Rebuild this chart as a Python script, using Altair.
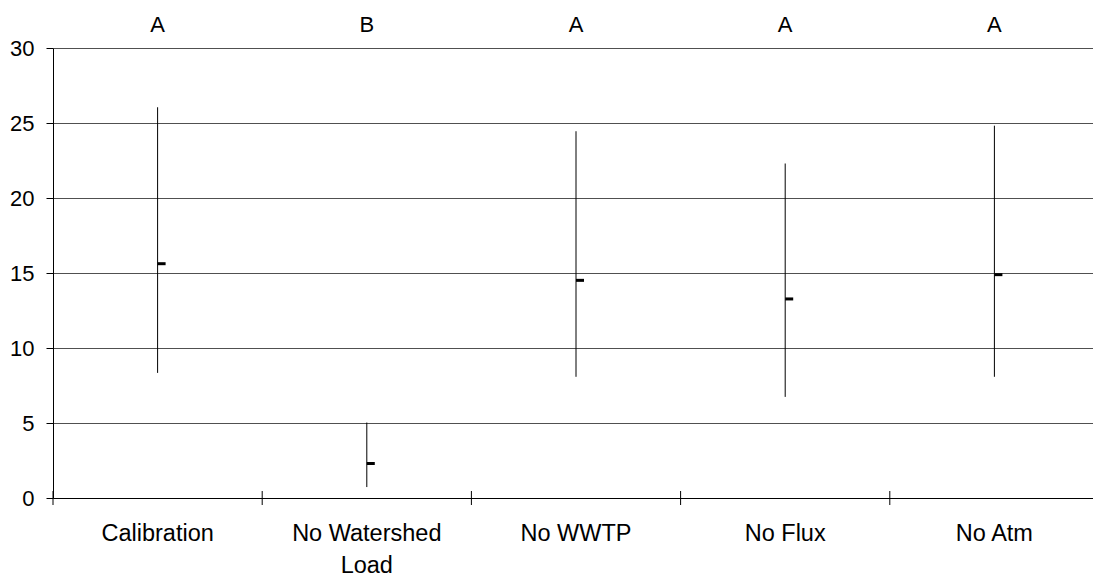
import altair as alt
import pandas as pd

# Scenario results: range (min-max) with mean marker, plus significance letters
categories = ["Calibration", "No Watershed|Load", "No WWTP", "No Flux", "No Atm"]
means = [15.62, 2.30, 14.51, 13.27, 14.89]
lows = [8.34, 0.73, 8.08, 6.74, 8.08]
highs = [26.05, 5.03, 24.45, 22.30, 24.82]
letters = ["A", "B", "A", "A", "A"]

df = pd.DataFrame({
    "scenario": categories,
    "mean": means,
    "low": lows,
    "high": highs,
    "letter": letters,
})

FONT = "Liberation Sans"

x_scale = alt.Scale(domain=categories, range=[0, 1046], paddingInner=0, paddingOuter=0)
y_scale = alt.Scale(domain=[0, 30], nice=False, zero=True)

x_enc = alt.X(
    "scenario:N",
    scale=x_scale,
    sort=categories,
    axis=alt.Axis(
        title=None,
        labelAngle=0,
        labelFont=FONT,
        labelFontSize=23.5,
        labelColor="black",
        labelPadding=23,
        labelLineHeight=32,
        labelExpr="split(datum.label, '|')",
        ticks=False,
        tickSize=0,
        domainColor="black",
        domainWidth=1,
        grid=False,
    ),
)

base = alt.Chart(df)

ranges = base.mark_rule(color="black", strokeWidth=1).encode(
    x=x_enc,
    y=alt.Y(
        "low:Q",
        scale=y_scale,
        axis=alt.Axis(
            title=None,
            values=[0, 5, 10, 15, 20, 25, 30],
            labelFont=FONT,
            labelFontSize=22,
            labelColor="black",
            labelPadding=12,
            tickSize=7,
            tickColor="black",
            domainColor="black",
            gridColor="#505050",
            gridWidth=1,
        ),
    ),
    y2="high:Q",
)

mean_marks = base.mark_tick(
    color="black", opacity=1, size=8, thickness=3, xOffset=4
).encode(
    x=alt.X("scenario:N", scale=x_scale, sort=categories),
    y=alt.Y("mean:Q", scale=y_scale),
)

# Category boundary ticks crossing the x axis line
boundary_ticks = base.mark_rule(color="black", strokeWidth=1).encode(
    x=alt.X("scenario:N", scale=x_scale, sort=categories, bandPosition=0),
    y=alt.value(443),
    y2=alt.value(457),
)

letter_marks = base.mark_text(
    font=FONT, fontSize=22, color="black", baseline="middle"
).encode(
    x=alt.X("scenario:N", scale=x_scale, sort=categories),
    y=alt.value(-23),
    text="letter:N",
)

chart = (
    alt.layer(ranges, boundary_ticks, mean_marks, letter_marks)
    .properties(
        width=1040,
        height=450,
        autosize=alt.AutoSizeParams(type="none"),
        padding={"left": 53, "top": 48, "right": 0, "bottom": 77},
        background="white",
    )
    .configure_view(stroke=None)
)

chart.save("out.html", embed_options={"renderer": "svg", "actions": False})
